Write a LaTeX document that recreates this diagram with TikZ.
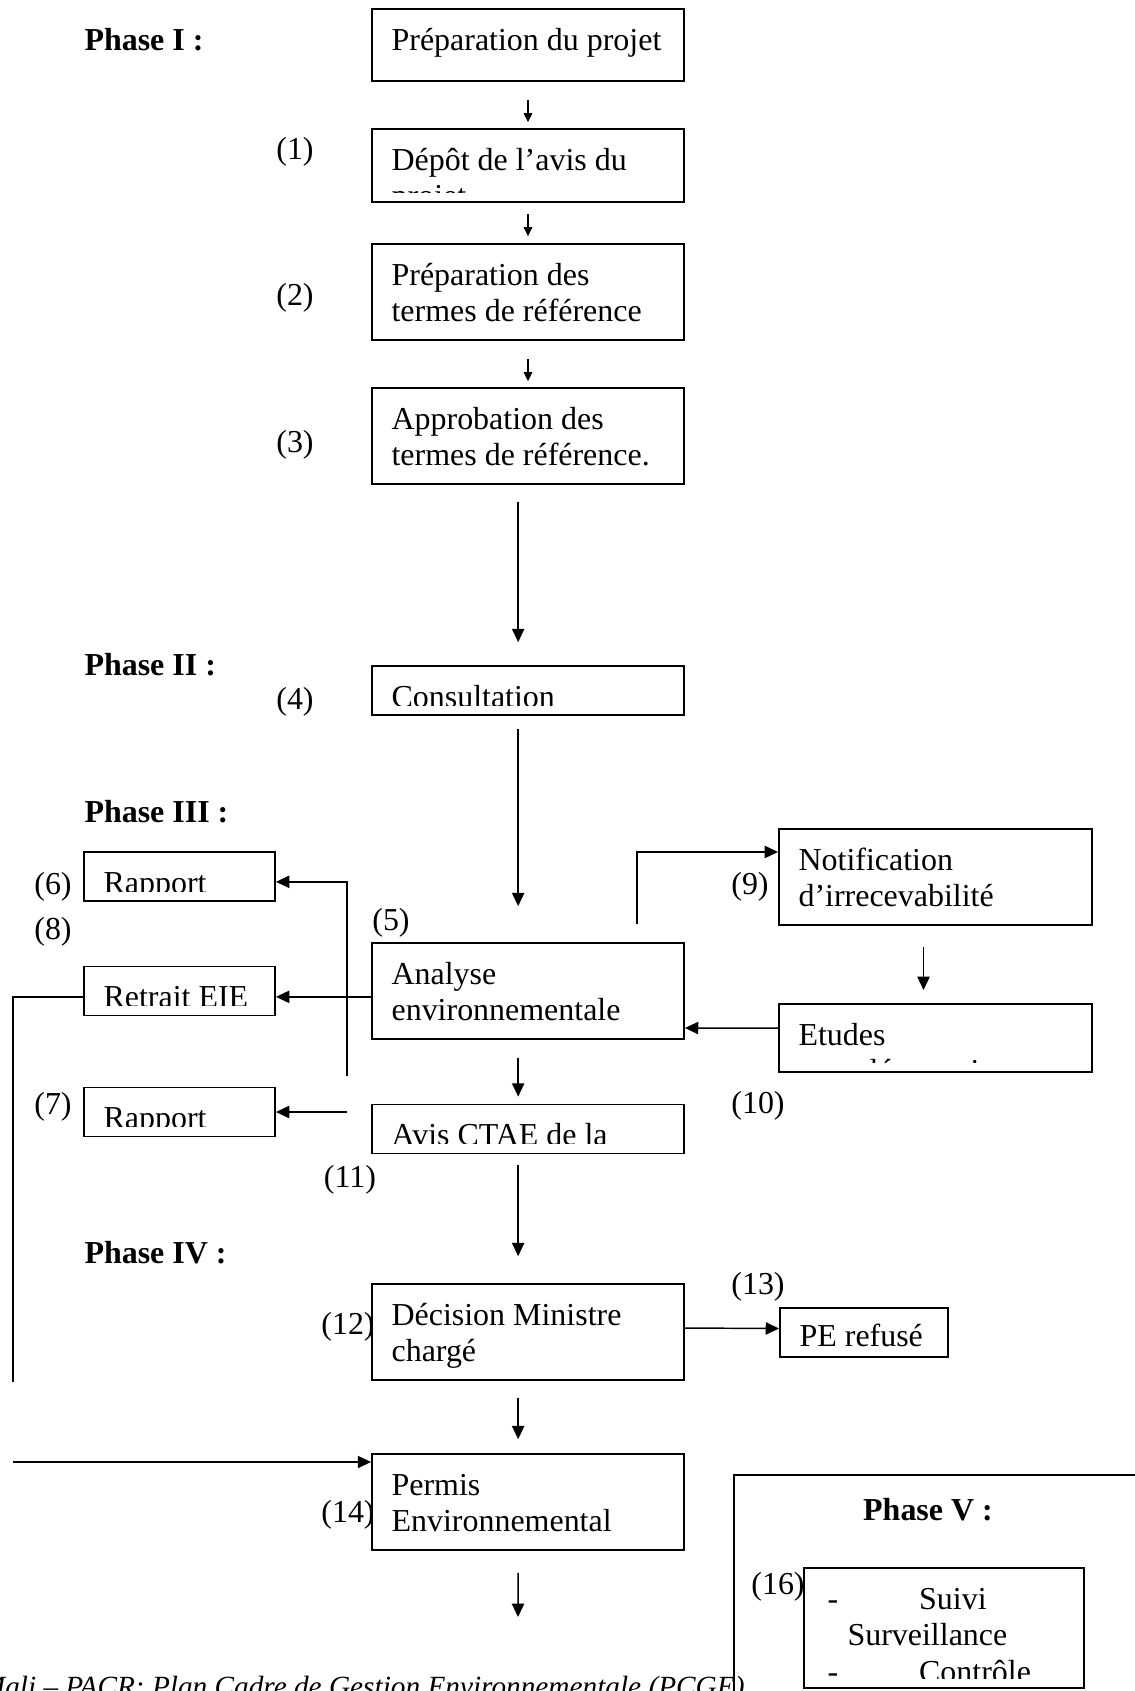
\documentclass[tikz,border=0pt]{standalone}
\usepackage{fontspec}
\setmainfont{Liberation Serif}
\usetikzlibrary{arrows.meta, calc, positioning}
\newcommand{\stdsize}{\fontsize{12}{13.8}\selectfont}
\newcommand{\boxtext}[3][20]{%
  \begin{scope}
    \clip (#2.north west) rectangle ([yshift=4.1pt]#2.south east);
    \node[txt] (#2-txt) at ([shift={(#1,42)}]#2.north west) {\begin{tabular}[t]{@{}l@{}}#3\end{tabular}};
  \end{scope}}

\begin{document}
\begin{tikzpicture}
  [x=0.0132cm, y=-0.0132cm, font=\stdsize,
  box/.style={draw, line width=0.7pt, inner sep=0pt, minimum width=4.118cm},
  side/.style={box, minimum width=2.521cm},
  high/.style={minimum height=1.267cm},
  low/.style={minimum height=0.647cm},
  txt/.style={anchor=base west, inner sep=0pt},
  phase/.style={anchor=west, inner sep=0pt, font=\stdsize\bfseries},
  num/.style={inner sep=0pt},
  wire/.style={line width=0.55pt},
  arr/.style={wire, -{Triangle[length=5pt, width=4.6pt]}},
  arrs/.style={wire, -{Triangle[length=3.4pt, width=3.2pt]}}]
  \useasboundingbox (0,0) rectangle (1135,1691);

  \node[phase] (ph1) at (84,40) {Phase I :};
  \node[box, minimum height=0.950cm] (prep) at (528,45) {};
  \node[box, minimum height=0.964cm] (depot) at (528,165.5) {};
  \node[box, high] (tdr) at (528,292) {};
  \node[box, high] (approb) at (528,436) {};
  \node[phase] (ph2) at (84,665) {Phase II :};
  \node[box, low] (consult) at (528,690.5) {};
  \node[phase] (ph3) at (84,812) {Phase III :};
  \node[box, high] (analyse) at (528,991) {};
  \node[box, low] (avis) at (528,1129) {};
  \node[phase] (ph4) at (84,1253) {Phase IV :};
  \node[box, high] (decision) at (528,1332) {};
  \node[box, high] (permis) at (528,1502) {};

  \node[side, low] (rapport6) at (179.5,876.5) {};
  \node[side, low] (retrait) at (179.5,991) {};
  \node[side, low] (rapport7) at (179.5,1112) {};

  \node[box, high, minimum width=4.132cm] (notif) at (935.5,877) {};
  \node[box, minimum width=4.132cm, minimum height=0.898cm] (etudes) at (935.5,1038) {};
  \node[box, low, minimum width=2.218cm] (refus) at (864,1332.5) {};

  \node[draw, line width=0.7pt, inner sep=0pt, anchor=north west,
    minimum width=5.5cm, minimum height=3.5cm] (cadre) at (733,1474) {};
  \node[phase, anchor=center] (ph5) at (928,1510) {Phase V :};
  \node[box, minimum width=3.696cm, minimum height=1.584cm] (suivi) at (944,1628) {};

  \boxtext{prep}{Préparation du projet}
  \boxtext{depot}{Dépôt de l’avis du\\projet}
  \boxtext{tdr}{Préparation des\\termes de référence}
  \boxtext{approb}{Approbation des\\termes de référence.}
  \boxtext{consult}{Consultation}
  \boxtext{analyse}{Analyse\\environnementale}
  \boxtext{avis}{Avis CTAE de la}
  \boxtext{decision}{Décision Ministre\\chargé}
  \boxtext{permis}{Permis\\Environnemental}
  \boxtext{rapport6}{Rapport}
  \boxtext{retrait}{Retrait EIE}
  \boxtext{rapport7}{Rapport}
  \boxtext{notif}{Notification\\d’irrecevabilité}
  \boxtext{etudes}{Etudes\\complémentaires}
  \node[txt] (refus-txt) at ([shift={(20,39)}]refus.north west) {PE refusé};
  \boxtext[24]{suivi}{\makebox[34.4pt][l]{-}Suivi\\\hspace*{7.5pt}Surveillance\\\makebox[34.4pt][l]{-}Contrôle}

  \node[num] (n1) at (295,152) {(1)};
  \node[num] (n2) at (295,298) {(2)};
  \node[num] (n3) at (295,445) {(3)};
  \node[num] (n4) at (295,702) {(4)};
  \node[num] (n5) at (391,923) {(5)};
  \node[num] (n6) at (53,887) {(6)};
  \node[num] (n7) at (53,1107) {(7)};
  \node[num] (n8) at (53,932) {(8)};
  \node[num] (n9) at (750,887) {(9)};
  \node[num] (n10) at (758,1106) {(10)};
  \node[num] (n11) at (350,1180) {(11)};
  \node[num] (n12) at (348,1327) {(12)};
  \node[num] (n13) at (758,1287) {(13)};
  \node[num] (n14) at (348,1515) {(14)};
  \node[num] (n16) at (778,1587) {(16)};

  \draw[arrs, shorten <=6.7pt, shorten >=2.2pt] (prep) -- (depot);
  \draw[arrs, shorten <=4.1pt, shorten >=2.6pt] (depot) -- (tdr);
  \draw[arrs, shorten <=6.7pt, shorten >=2.2pt] (tdr) -- (approb);
  \draw[arr, shorten <=6.4pt, shorten >=8.6pt] ([xshift=-3.7pt]approb.south) -- ([xshift=-3.7pt]consult.north);
  \draw[arr, shorten <=4.9pt, shorten >=13.5pt] ([xshift=-3.7pt]consult.south) -- ([xshift=-3.7pt]analyse.north);
  \draw[arr, shorten <=6.7pt, shorten >=2.6pt] ([xshift=-3.7pt]analyse.south) -- ([xshift=-3.7pt]avis.north);
  \draw[arr, shorten <=4.1pt, shorten >=10.1pt] ([xshift=-3.7pt]avis.south) -- ([xshift=-3.7pt]decision.north);
  \draw[arr, shorten <=6.4pt, shorten >=5.2pt] ([xshift=-3.7pt]decision.south) -- ([xshift=-3.7pt]permis.north);
  \coordinate (suite) at (518,1617);
  \draw[arr, shorten <=8.2pt] ([xshift=-3.7pt]permis.south) -- (suite);

  \draw[arr] ([yshift=-2.2pt]analyse.west) -- ([yshift=-2.2pt]retrait.east);
  \coordinate (b6) at (347,1076);
  \draw[arr] (b6) |- ([yshift=-2pt]rapport6.east);
  \coordinate (b7) at (347,1112);
  \draw[arr] (b7) -- (rapport7.east);
  \coordinate (gauche) at (13,1382);
  \draw[wire] ([yshift=-2.2pt]retrait.west) -| (gauche);
  \coordinate (retour) at (13,1462);
  \draw[arr] (retour) -- (retour -| permis.west);

  \coordinate (bn) at (637,924);
  \draw[arr] (bn) |- ([yshift=9.4pt]notif.west);
  \draw[arr, shorten <=7.9pt, shorten >=4.9pt] ([xshift=-4.5pt]notif.south) -- ([xshift=-4.5pt]etudes.north);
  \draw[arr] ([yshift=3.7pt]etudes.west) -- ([yshift=-13.9pt]analyse.east);
  \draw[arr] ([yshift=1.5pt]decision.east) -- ([yshift=1.5pt]refus.west);

  \node[anchor=base east, inner sep=0pt, font=\fontsize{11}{12.6}\selectfont\itshape] (pied) at (745,1696)
    {Mali – PACR: Plan Cadre de Gestion Environnementale (PCGE)};
\end{tikzpicture}
\end{document}
